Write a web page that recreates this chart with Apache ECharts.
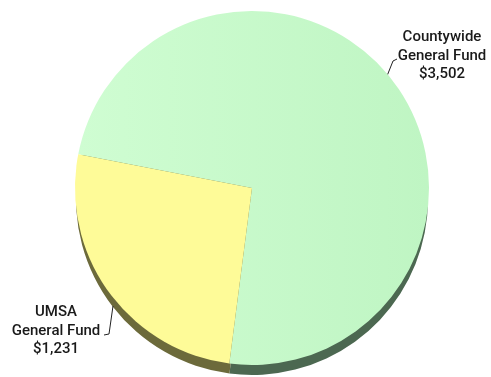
<!DOCTYPE html>
<html>
<head>
<meta charset="utf-8">
<script src="https://cdn.jsdelivr.net/npm/echarts@6/dist/echarts.min.js"></script>
<style>html,body{margin:0;padding:0;background:#fff;}#c{width:491px;height:377px;}</style>
</head>
<body>
<div id="c"></div>
<script>
const categories = ['Countywide\nGeneral Fund', 'UMSA\nGeneral Fund'];
const values = [3502, 1231];
const valueLabels = ['$3,502', '$1,231'];

const faceColors = [
  {type:'linear', x:0, y:0, x2:1, y2:0, colorStops:[{offset:0,color:'#cffdd2'},{offset:1,color:'#bff5c3'}]},
  '#fefb98'
];
const sideColors = ['#4c6851', '#6c6a3b'];

const labelSpots = [
  {x: 442, y: 56, align: 'center', verticalAlign: 'middle', labelLinePoints: [[387, 76], [393, 61], [397, 59]]},
  {x: 56, y: 331, align: 'center', verticalAlign: 'middle', labelLinePoints: [[113, 306], [109, 334], [104, 335]]}
];

const chart = echarts.init(document.getElementById('c'), null, {renderer: 'canvas'});
const faceData = categories.map((c, i) => ({name: c, value: values[i], itemStyle: {color: faceColors[i]}}));
const sideData = categories.map((c, i) => ({name: c, value: values[i], itemStyle: {color: sideColors[i]}}));

chart.setOption({
  animation: false,
  series: [
    {
      type: 'pie', silent: true, z: 1,
      center: [252, 199], radius: 176, startAngle: 169, clockwise: true,
      label: {show: false}, labelLine: {show: false},
      emphasis: {disabled: true},
      data: sideData
    },
    {
      type: 'pie', silent: true, z: 2,
      center: [252, 188], radius: 177, startAngle: 169, clockwise: true,
      emphasis: {disabled: true},
      label: {
        show: true, position: 'outside', overflow: 'none', width: 200,
        formatter: p => p.name + '\n' + valueLabels[p.dataIndex],
        fontFamily: "Roboto, 'Liberation Sans', sans-serif",
        fontWeight: 500, fontSize: 15, lineHeight: 18.5, color: '#1a1a1a', align: 'center'
      },
      labelLine: {show: true, lineStyle: {color: '#222', width: 1}},
      labelLayout: p => labelSpots[p.dataIndex],
      data: faceData
    }
  ]
});
</script>
</body>
</html>
